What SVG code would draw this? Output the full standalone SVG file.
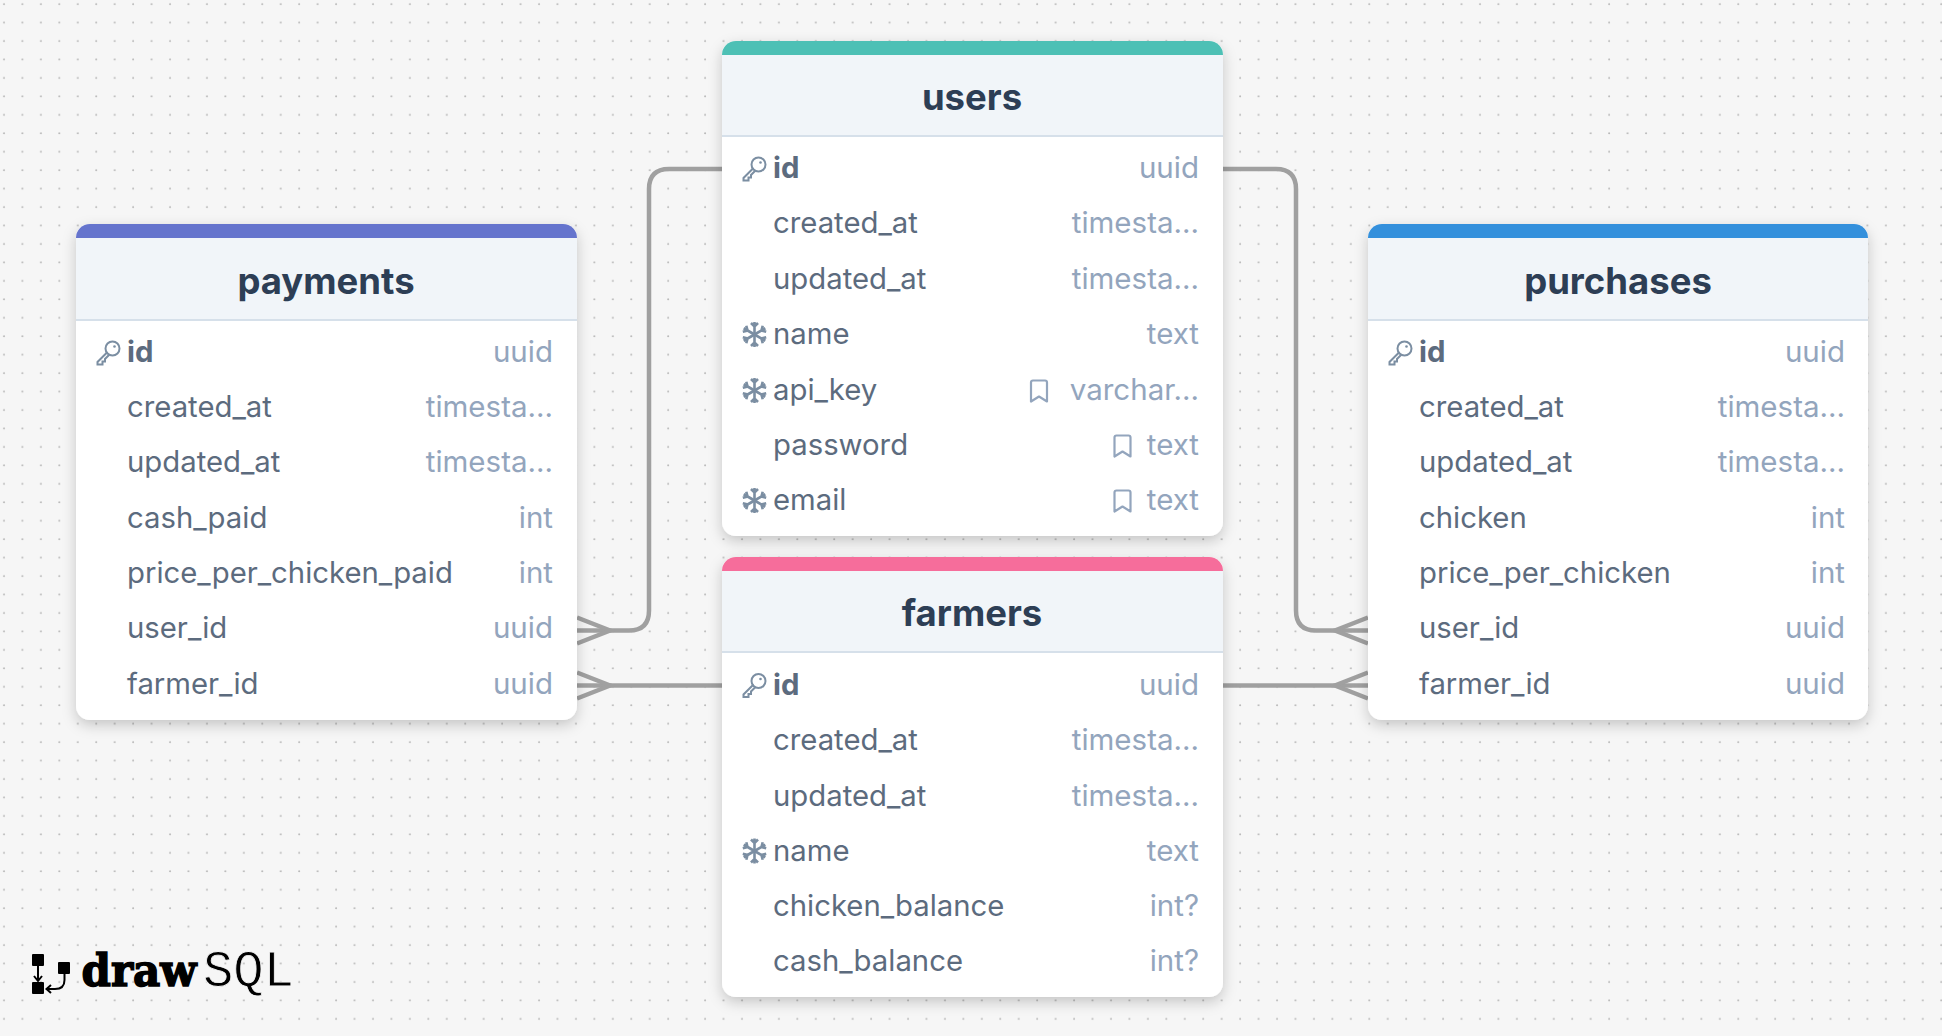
<svg xmlns="http://www.w3.org/2000/svg" width="1942" height="1036" viewBox="0 0 1942 1036">
<style>
text{font-family:Inter,"Noto Sans","Liberation Sans",sans-serif}
.t{font-size:36.500px;font-weight:700;fill:#2d3e55;text-anchor:middle}
.n{font-size:29.300px;fill:#5c6b7e}
.p{font-size:29.300px;font-weight:700;fill:#5c6b7e}
.y{font-size:29.500px;fill:#93a5bd;text-anchor:end}
.c{fill:none;stroke:#a0a0a0;stroke-width:4.500}
.h{fill:#f1f5f9}
.hl{stroke:#d6e0ea;stroke-width:2}
.ic{fill:none;stroke:#7b8ea2;stroke-width:2}
.bk{fill:none;stroke:#93a5bd;stroke-width:2.200;stroke-linejoin:round}
.sn{fill:none;stroke:#7b8ea2;stroke-width:2.600}
</style>
<defs>
<pattern id="dots" width="18.45" height="18.45" patternUnits="userSpaceOnUse"><circle cx="4" cy="4.2" r="1" fill="#b8b8b8"/></pattern>
<filter id="sh" x="-10%" y="-10%" width="120%" height="125%"><feDropShadow dx="0" dy="5" stdDeviation="7" flood-color="#000" flood-opacity=".2"/></filter>
<g id="key"><circle cx="4.500" cy="-4.500" r="7" class="ic"/><path class="ic" d="M-0.500 -1L-10.500 9V11.500H-5.500V8.500H-3V6L1 2"/><circle cx="6.500" cy="-6.500" r="1.300" fill="#7b8ea2"/></g>
<path id="arm" class="sn" d="M0 0V-12.500M-3.500-11.500L0-8L3.500-11.500"/>
<g id="snow"><use href="#arm"/><use href="#arm" transform="rotate(60)"/><use href="#arm" transform="rotate(120)"/><use href="#arm" transform="rotate(180)"/><use href="#arm" transform="rotate(240)"/><use href="#arm" transform="rotate(300)"/></g>
<path id="bm" class="bk" d="M-8-8.500Q-8-10.500-6-10.500H6Q8-10.500 8-8.500V10.500L0 5.500L-8 10.500Z"/>
</defs>
<rect width="1942" height="1036" fill="#f6f6f6"/>
<rect width="1942" height="1036" fill="url(#dots)"/>
<g id="connectors">
<path class="c" d="M722 169H669Q649 169 649 189V610.500Q649 630.500 629 630.500H577"/>
<path class="c" d="M577 685.500H722"/>
<path class="c" d="M1222 169H1276Q1296 169 1296 189V610.500Q1296 630.500 1316 630.500H1368"/>
<path class="c" d="M1222 685.500H1368"/>
<path class="c" d="M577 617.500L610 630.500L577 643.500M577 672.500L610 685.500L577 698.500"/>
<path class="c" d="M1368 617.500L1335 630.500L1368 643.500M1368 672.500L1335 685.500L1368 698.500"/>
</g>
<g id="payments">
<path filter="url(#sh)" fill="#fff" d="M76 238a14 14 0 0 1 14-14H563a14 14 0 0 1 14 14V706a14 14 0 0 1-14 14H90a14 14 0 0 1-14-14Z"/>
<rect class="h" x="76" y="236" width="501" height="84"/><line class="hl" x1="76" y1="320" x2="577" y2="320"/>
<path fill="#6574cd" d="M76 238a14 14 0 0 1 14-14H563a14 14 0 0 1 14 14Z"/>
<text class="t" x="326" y="294">payments</text>
<use href="#key" x="108" y="353"/>
<text class="p" x="127" y="362">id</text><text class="y" x="553" y="362">uuid</text>
<text class="n" x="127" y="417">created_at</text><text class="y" x="553" y="417">timesta...</text>
<text class="n" x="127" y="472">updated_at</text><text class="y" x="553" y="472">timesta...</text>
<text class="n" x="127" y="528">cash_paid</text><text class="y" x="553" y="528">int</text>
<text class="n" x="127" y="583">price_per_chicken_paid</text><text class="y" x="553" y="583">int</text>
<text class="n" x="127" y="638">user_id</text><text class="y" x="553" y="638">uuid</text>
<text class="n" x="127" y="694">farmer_id</text><text class="y" x="553" y="694">uuid</text>
</g>
<g id="users">
<path filter="url(#sh)" fill="#fff" d="M722 55a14 14 0 0 1 14-14H1209a14 14 0 0 1 14 14V522a14 14 0 0 1-14 14H736a14 14 0 0 1-14-14Z"/>
<rect class="h" x="722" y="53" width="501" height="84"/><line class="hl" x1="722" y1="136" x2="1223" y2="136"/>
<path fill="#4dc0b5" d="M722 55a14 14 0 0 1 14-14H1209a14 14 0 0 1 14 14Z"/>
<text class="t" x="972" y="110">users</text>
<use href="#key" x="754" y="169"/>
<text class="p" x="773" y="178">id</text><text class="y" x="1199" y="178">uuid</text>
<text class="n" x="773" y="233">created_at</text><text class="y" x="1199" y="233">timesta...</text>
<text class="n" x="773" y="289">updated_at</text><text class="y" x="1199" y="289">timesta...</text>
<use href="#snow" x="754.500" y="334.500"/>
<text class="n" x="773" y="344">name</text><text class="y" x="1199" y="344">text</text>
<use href="#snow" x="754.500" y="390.500"/>
<text class="n" x="773" y="399.500">api_key</text><use href="#bm" x="1039" y="391"/><text class="y" x="1199" y="399.500">varchar...</text>
<text class="n" x="773" y="454.500">password</text><use href="#bm" x="1122.500" y="446"/><text class="y" x="1199" y="454.500">text</text>
<use href="#snow" x="754.500" y="500.500"/>
<text class="n" x="773" y="509.500">email</text><use href="#bm" x="1122.500" y="501"/><text class="y" x="1199" y="509.500">text</text>
</g>
<g id="farmers">
<path filter="url(#sh)" fill="#fff" d="M722 571a14 14 0 0 1 14-14H1209a14 14 0 0 1 14 14V983a14 14 0 0 1-14 14H736a14 14 0 0 1-14-14Z"/>
<rect class="h" x="722" y="569" width="501" height="84"/><line class="hl" x1="722" y1="652" x2="1223" y2="652"/>
<path fill="#f66d9b" d="M722 571a14 14 0 0 1 14-14H1209a14 14 0 0 1 14 14Z"/>
<text class="t" x="972" y="626">farmers</text>
<use href="#key" x="754" y="685.500"/>
<text class="p" x="773" y="694.500">id</text><text class="y" x="1199" y="694.500">uuid</text>
<text class="n" x="773" y="749.500">created_at</text><text class="y" x="1199" y="749.500">timesta...</text>
<text class="n" x="773" y="805.500">updated_at</text><text class="y" x="1199" y="805.500">timesta...</text>
<use href="#snow" x="754.500" y="851"/>
<text class="n" x="773" y="860.500">name</text><text class="y" x="1199" y="860.500">text</text>
<text class="n" x="773" y="915.500">chicken_balance</text><text class="y" x="1199" y="915.500">int?</text>
<text class="n" x="773" y="971">cash_balance</text><text class="y" x="1199" y="971">int?</text>
</g>
<g id="purchases">
<path filter="url(#sh)" fill="#fff" d="M1368 238a14 14 0 0 1 14-14H1854a14 14 0 0 1 14 14V706a14 14 0 0 1-14 14H1382a14 14 0 0 1-14-14Z"/>
<rect class="h" x="1368" y="236" width="500" height="84"/><line class="hl" x1="1368" y1="320" x2="1868" y2="320"/>
<path fill="#3490dc" d="M1368 238a14 14 0 0 1 14-14H1854a14 14 0 0 1 14 14Z"/>
<text class="t" x="1618" y="294">purchases</text>
<use href="#key" x="1400" y="353"/>
<text class="p" x="1419" y="362">id</text><text class="y" x="1845" y="362">uuid</text>
<text class="n" x="1419" y="417">created_at</text><text class="y" x="1845" y="417">timesta...</text>
<text class="n" x="1419" y="472">updated_at</text><text class="y" x="1845" y="472">timesta...</text>
<text class="n" x="1419" y="528">chicken</text><text class="y" x="1845" y="528">int</text>
<text class="n" x="1419" y="583">price_per_chicken</text><text class="y" x="1845" y="583">int</text>
<text class="n" x="1419" y="638">user_id</text><text class="y" x="1845" y="638">uuid</text>
<text class="n" x="1419" y="694">farmer_id</text><text class="y" x="1845" y="694">uuid</text>
</g>
<g id="logo">
<rect x="32" y="954" width="12" height="12" rx="1" fill="#000"/>
<rect x="32" y="982" width="12" height="12" rx="1" fill="#000"/>
<rect x="58" y="962" width="12" height="12" rx="1" fill="#000"/>
<path fill="none" stroke="#000" stroke-width="2" d="M38 966V980M34 976L38 981L42 976M64.500 974V980Q64.500 989 55 989H47M51 985L46.500 989L51 993"/>
<text x="81.500" y="986" font-size="44" font-weight="700" fill="#000" stroke="#000" stroke-width="1.500" style='font-family:"DejaVu Serif",serif' textLength="115" lengthAdjust="spacingAndGlyphs">draw</text>
<text x="203" y="986" font-size="52" fill="#000" stroke="#f6f6f6" stroke-width="0.800" style='font-family:"Liberation Mono",monospace' textLength="91" lengthAdjust="spacingAndGlyphs">SQL</text>
</g>
</svg>
